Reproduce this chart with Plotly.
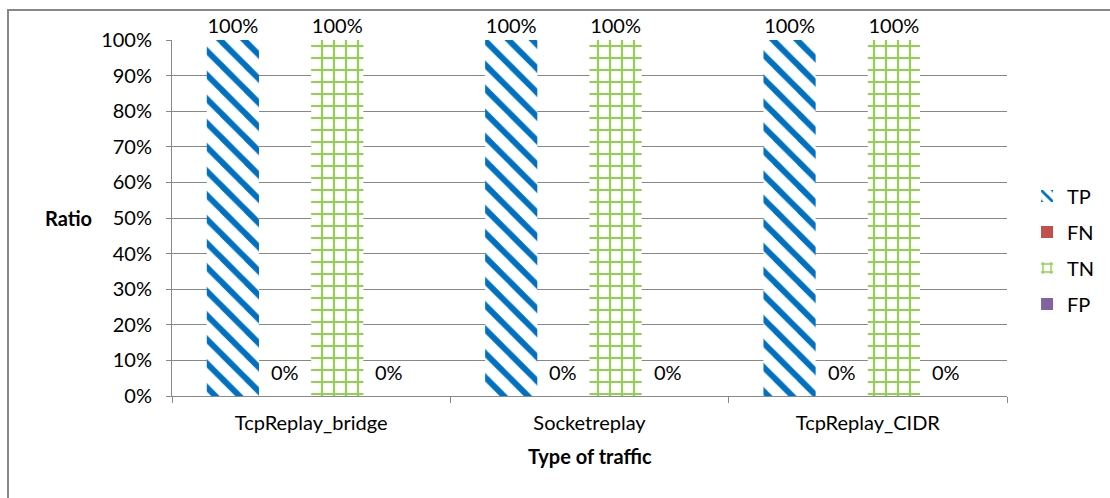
import plotly.graph_objects as go

categories = ["TcpReplay_bridge", "Socketreplay", "TcpReplay_CIDR"]
tp = [1.0, 1.0, 1.0]
fn = [0.0, 0.0, 0.0]
tn = [1.0, 1.0, 1.0]
fp = [0.0, 0.0, 0.0]
series_names = ["TP", "FN", "TN", "FP"]

FONT = "Lato"
FS = 20
W, H = 1110, 498
L, R, T, B = 172, 103, 40, 102
BARGAP = 0.25

fig = go.Figure()
styles = [
    dict(color="white", pattern=dict(shape="\\", fgcolor="#0070C0", bgcolor="white",
                                     size=17, solidity=0.35, fgopacity=1)),
    dict(color="#C0504D"),
    dict(color="white", pattern=dict(shape="+", fgcolor="#92D050", bgcolor="white",
                                     size=12, solidity=0.32, fgopacity=1)),
    dict(color="#8064A2"),
]
all_vals = [tp, fn, tn, fp]
for name, vals, st in zip(series_names, all_vals, styles):
    fig.add_trace(go.Bar(
        x=categories, y=vals, name=name, marker=st, marker_line_width=0,
        text=[f"{v:.0%}" if v > 0 else "" for v in vals],
        textposition="outside", cliponaxis=False,
        textfont=dict(family=FONT, size=FS, color="black"),
        legendgroup=name,
    ))

pw = W - L - R
ph = H - T - B

# labels for zero-valued bars (placed just above the baseline, as in the source)
n = len(series_names)
bw = (1 - BARGAP) / n
annotations = []
for si, vals in enumerate(all_vals):
    off = -(1 - BARGAP) / 2 + bw * (si + 0.5)
    for ci, v in enumerate(vals):
        if v == 0:
            annotations.append(dict(
                text=f"{v:.0%}", xref="x", yref="y", x=ci + off, y=v,
                yshift=24, showarrow=False, xanchor="center", yanchor="middle",
                font=dict(family=FONT, size=FS, color="black")))

annotations += [
    dict(text="<b>Ratio</b>", xref="paper", yref="paper",
         x=(68 - L) / pw, y=(H - B - 218) / ph, xanchor="center", yanchor="middle",
         showarrow=False, font=dict(family=FONT, size=FS)),
    dict(text="<b>Type of traffic</b>", xref="paper", yref="paper",
         x=0.5, y=(H - B - 456) / ph, xanchor="center", yanchor="middle",
         showarrow=False, font=dict(family=FONT, size=FS)),
]

fig.update_layout(
    width=W, height=H,
    margin=dict(l=L, r=R, t=T, b=B, autoexpand=False),
    paper_bgcolor="white", plot_bgcolor="white",
    barmode="group", bargap=BARGAP, bargroupgap=0,
    font=dict(family=FONT, size=FS, color="black"),
    showlegend=True,
    legend=dict(x=1.024, y=(396 - 250) / ph, xanchor="left", yanchor="middle",
                traceorder="grouped", tracegroupgap=7,
                font=dict(family=FONT, size=FS)),
    xaxis=dict(showline=True, linecolor="#888", linewidth=1, ticks="outside",
               tickson="boundaries", ticklen=6, tickcolor="#888",
               ticklabelstandoff=9, tickfont=dict(size=FS)),
    yaxis=dict(range=[0, 1], dtick=0.1, tickformat=".0%", showgrid=True,
               gridcolor="#888", gridwidth=1, showline=True, linecolor="#888",
               ticks="outside", ticklen=5, tickcolor="#888", ticklabelstandoff=10,
               zeroline=False, tickfont=dict(size=FS)),
    annotations=annotations,
    shapes=[
        dict(type="rect", xref="paper", yref="paper",
             x0=(8 - L) / pw, x1=(W + 5 - L) / pw,
             y0=(H - B - (H + 5)) / ph, y1=(H - B - 10) / ph,
             line=dict(color="#888", width=2), fillcolor="rgba(0,0,0,0)", layer="below"),
    ],
)
fig.write_html("out.html")
